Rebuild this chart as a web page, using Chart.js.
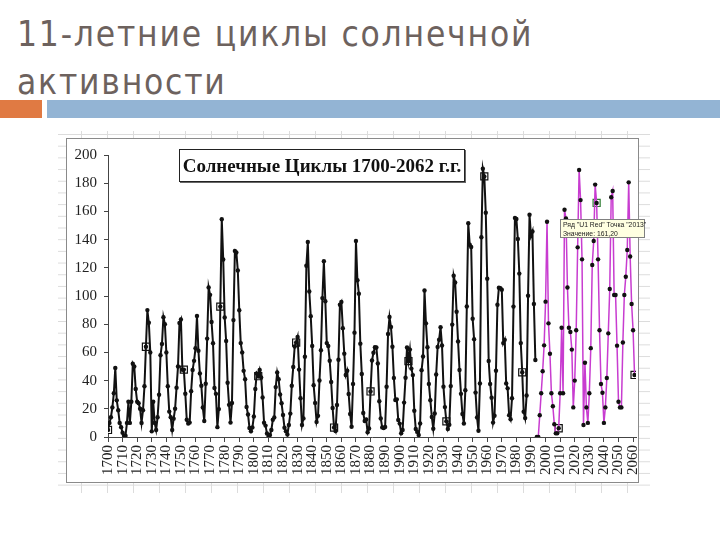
<!DOCTYPE html>
<html>
<head>
<meta charset="utf-8">
<script src="https://cdn.jsdelivr.net/npm/chart.js@4"></script>
<style>
  html,body{margin:0;padding:0;}
  body{width:720px;height:540px;position:relative;background:#fff;overflow:hidden;}
  #title{position:absolute;left:17px;top:10px;font-family:"DejaVu Sans Condensed","DejaVu Sans";font-stretch:condensed;font-weight:300;font-size:35px;letter-spacing:1.8px;line-height:48px;color:#6d625e;white-space:nowrap;}
  #barO{position:absolute;left:0;top:100px;width:42px;height:18px;background:#e07a43;}
  #barB{position:absolute;left:47px;top:100px;width:673px;height:18px;background:#93b4d4;}
  #sheet{position:absolute;left:58px;top:131px;width:592px;height:362px;
    background-image:linear-gradient(#dcdcdc 1px,transparent 1px),linear-gradient(90deg,#dcdcdc 1px,transparent 1px);
    background-size:100% 11.7px,26px 100%;background-position:0 3px,23px 0;}
  #box{position:absolute;left:66px;top:138px;width:573px;height:345px;box-sizing:border-box;border:1px solid #8a8a8a;background:#fff;}
  canvas{position:absolute;left:0;top:0;}
  #ctitle{position:absolute;left:179px;top:149px;width:286px;height:33px;box-sizing:border-box;border:1px solid #222;box-shadow:1px 1px 0 #666;background:#fff;
    font-family:"Liberation Serif";font-weight:bold;font-size:19px;line-height:31px;text-align:center;color:#111;white-space:nowrap;}
  #tip{position:absolute;left:560px;top:219px;width:85px;height:19px;box-sizing:border-box;border:1px solid #808080;background:#ffffe1;
    font-family:"Liberation Sans";font-size:6.8px;line-height:9px;color:#222;padding:0 0 0 2px;white-space:nowrap;}
</style>
</head>
<body>
<div id="title">11-летние циклы солнечной<br>активности</div>
<div id="barO"></div><div id="barB"></div>
<div id="sheet"></div>
<div id="box"></div>
<canvas id="c" width="720" height="540"></canvas>
<div id="ctitle">Солнечные Циклы 1700-2062 г.г.</div>
<div id="tip">Ряд "U1 Red" Точка "2013"<br>Значение: 161,20</div>
<script>
// ---- data ----
const blackStart = 1700;
const blackValues = [
  5,10,14,21,31,49,26,19,10,7,
  3,1,1,10,25,10,25,52,50,34,
  25,24,20,10,19,36,64,90,81,60,
  4,25,10,5,14,30,58,66,85,80,
  60,36,18,14,5,13,20,35,50,
  80.9,83.4,47.7,47.8,30.7,12.2,9.6,10.2,32.4,47.6,54.0,
  62.9,85.9,61.2,45.1,36.4,20.9,11.4,37.8,69.8,106.1,
  100.8,81.6,66.5,34.8,30.6,7.0,19.8,92.5,154.4,125.9,
  84.8,68.1,38.5,22.8,10.2,24.1,82.9,132.0,130.9,118.1,
  89.9,66.6,60.0,46.9,41.0,21.3,16.0,6.4,4.1,6.8,
  14.5,34.0,45.0,43.1,47.5,42.2,28.1,10.1,8.1,2.5,
  0.0,1.4,5.0,12.2,13.9,35.4,45.8,41.0,30.1,23.9,
  15.6,6.6,4.0,1.8,8.5,16.6,36.3,49.6,64.2,67.0,
  70.9,47.8,27.5,8.5,13.2,56.9,121.5,138.3,103.2,85.7,
  64.6,36.7,24.2,10.7,15.0,40.1,61.5,98.5,124.7,96.3,
  66.6,64.5,54.1,39.0,20.6,6.7,4.3,22.7,54.8,93.8,
  95.8,77.2,59.1,44.0,47.0,30.5,16.3,7.3,37.6,74.0,
  139.0,111.2,101.6,66.2,44.7,17.0,11.3,12.4,3.4,6.0,
  32.3,54.3,59.7,63.7,63.5,52.2,25.4,13.1,6.8,6.3,
  7.1,35.6,73.0,85.1,78.0,64.0,41.8,26.2,26.7,12.1,
  9.5,2.7,5.0,24.4,42.0,63.5,53.8,62.0,48.5,43.9,
  18.6,5.7,3.6,1.4,9.6,47.4,57.1,103.9,80.6,63.6,
  37.6,26.1,14.2,5.8,16.7,44.3,63.9,69.0,77.8,64.9,
  35.7,21.2,11.1,5.7,8.7,36.1,79.7,114.4,109.6,88.8,
  67.8,47.5,30.6,16.3,9.6,33.2,92.6,151.6,136.3,134.7,
  83.9,69.4,31.5,13.9,4.4,38.0,141.7,190.2,184.8,159.0,
  112.3,53.9,37.6,27.9,10.2,15.1,47.0,93.8,105.9,105.5,
  104.5,66.6,68.9,38.0,34.5,15.5,12.6,27.5,92.5,155.4,
  154.6,140.4,115.9,66.6,45.9,17.9,13.4,29.4,100.2,157.6,
  142.6,145.7,94.3,54.6
];
const redStart = 1994;
const redValues = [
  0,0,15.4,31,46.6,65,96,152.7,80.6,59,
  31,21.8,9,2.6,2.6,6.2,31,77.5,31,161.2,
  155,106,77.5,74.5,62,21,40,75.7,134.5,189.4,
  168,126,8.5,52.7,21,10,31,63,122,139,
  179,166,126,75.7,37.6,31.4,10,21,41.8,73.5,
  105,170,174.5,100.7,100.7,64.8,25,21,21,67,
  100.7,113.7,132.6,180.6,128,94.3,75.7,44
];
const markerYears = [1700,1726,1752,1777,1803,1829,1855,1880,1906,1932,1958,1984,2009,2035,2061];
const highlightYear = 2035;
const xMin = 1700, xMax = 2062, xStep = 10;
const yMin = 0, yMax = 200, yStep = 20;

// ---- build ----
const blackYears = blackValues.map((_, i) => blackStart + i);
const redYears = redValues.map((_, i) => redStart + i);
const blackPts = blackValues.map((v, i) => ({x: blackYears[i], y: v}));
const redPts = redValues.map((v, i) => ({x: redYears[i], y: v}));
function valueAt(yr){
  const i = blackYears.indexOf(yr);
  if (i >= 0) return blackValues[i];
  return redValues[redYears.indexOf(yr)];
}
const markerPts = markerYears.map(yr => ({x: yr, y: valueAt(yr)}));
const markerBorders = markerYears.map(yr => yr === highlightYear ? '#2e7d32' : '#111');
const xTicks = [];
for (let t = xMin; t <= 2060; t += xStep) xTicks.push(t);

const axisFont = {family: 'Liberation Serif', size: 15};
new Chart(document.getElementById('c'), {
  type: 'line',
  data: {
    datasets: [
      {data: blackPts, borderColor: '#111', borderWidth: 2, pointRadius: 2.2, pointBorderWidth: 0,
       pointBackgroundColor: '#111', tension: 0},
      {data: redPts, borderColor: '#c83cd0', borderWidth: 1.5, pointRadius: 2.2, pointBorderWidth: 0,
       pointBackgroundColor: '#111', tension: 0},
      {data: markerPts, showLine: false, pointStyle: 'rect', pointRadius: 5, pointBorderWidth: 1.2,
       pointBackgroundColor: '#fff', pointBorderColor: markerBorders}
    ]
  },
  options: {
    responsive: false, animation: false, devicePixelRatio: 1,
    layout: {padding: {left: 60, top: 155, right: 84, bottom: 53}},
    plugins: {legend: {display: false}, tooltip: {enabled: false}, title: {display: false}},
    scales: {
      x: {type: 'linear', min: xMin, max: xMax,
          afterFit: s => { s.height = 50; },
          afterBuildTicks: s => { s.ticks = xTicks.map(v => ({value: v})); },
          ticks: {autoSkip: false, minRotation: 90, maxRotation: 90, font: axisFont, color: '#222', padding: 3,
                  callback: v => String(v)},
          grid: {drawOnChartArea: false, drawTicks: true, tickLength: 5, color: '#444'},
          border: {color: '#444', width: 1}},
      y: {min: yMin, max: yMax,
          afterFit: s => { s.width = 48; },
          ticks: {stepSize: yStep, font: axisFont, color: '#222', padding: 7},
          grid: {drawOnChartArea: false, drawTicks: true, tickLength: 4, color: '#444'},
          border: {color: '#444', width: 1}}
    }
  }
});
</script>
</body>
</html>
